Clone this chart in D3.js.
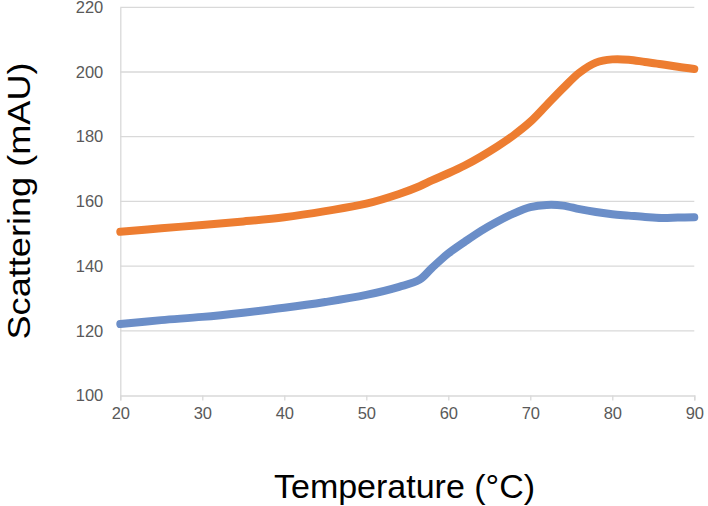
<!DOCTYPE html>
<html><head><meta charset="utf-8">
<script src="https://cdn.jsdelivr.net/npm/d3@7"></script>
<style>body{margin:0;background:#fff}svg{display:block}</style>
</head><body>
<svg id="c" width="708" height="506"></svg>
<script>
const temps = [20,25,30,35,40,45,50,54,56.5,58,60,62,64,66,68,70,72,74,76,78,80,82,84,86,88,90];
const blueSeries = [122.1,123.3,124.3,125.6,127.1,128.9,131.1,133.6,135.8,139.4,143.9,147.5,150.9,153.8,156.3,158.2,158.9,158.7,157.6,156.7,156.0,155.6,155.2,154.9,155.0,155.1];
const orangeSeries = [150.6,151.7,152.7,153.8,155.1,157.0,159.3,162.3,164.7,166.5,168.7,171.1,173.9,177.0,180.5,184.6,189.8,195.0,199.8,202.9,203.9,203.8,203.1,202.4,201.6,200.9];
const xTicks = [20,30,40,50,60,70,80,90];
const yTicks = [100,120,140,160,180,200,220];
const xTitle = "Temperature (°C)";
const yTitle = "Scattering (mAU)";

const svg = d3.select("#c");
const x = d3.scaleLinear().domain([20,90]).range([120.3,694.3]);
const y = d3.scaleLinear().domain([100,220]).range([395.5,7.3]);
const tickFont = "'Liberation Sans',Arial,sans-serif";

svg.append("g").selectAll("line").data(yTicks.filter(d=>d>100)).join("line")
  .attr("x1",x(20)).attr("x2",x(90)).attr("y1",d=>y(d)).attr("y2",d=>y(d))
  .attr("stroke","#d9d9d9").attr("stroke-width",1.3);

const ya = svg.append("g").attr("transform",`translate(${x(20)},0)`)
  .call(d3.axisLeft(y).tickValues(yTicks).tickSize(0).tickPadding(17));
ya.select(".domain").attr("stroke","#d9d9d9").attr("stroke-width",1.3);
ya.selectAll("text").attr("fill","#595959").style("font-family",tickFont).style("font-size","16.5px");

const xa = svg.append("g").attr("transform",`translate(0,${y(100)})`)
  .call(d3.axisBottom(x).tickValues(xTicks).tickSize(5).tickPadding(7));
xa.select(".domain").attr("stroke","#d9d9d9").attr("stroke-width",1.3);
xa.selectAll(".tick line").attr("stroke","#d9d9d9").attr("stroke-width",1.3);
xa.selectAll("text").attr("fill","#595959").style("font-family",tickFont).style("font-size","16.5px");

const line = d3.line().x((d,i)=>x(temps[i])).y(d=>y(d)).curve(d3.curveCatmullRom.alpha(0.5));
svg.append("path").datum(blueSeries).attr("d",line).attr("fill","none")
  .attr("stroke","#6b8ec8").attr("stroke-width",8).attr("stroke-linecap","round").attr("stroke-linejoin","round");
svg.append("path").datum(orangeSeries).attr("d",line).attr("fill","none")
  .attr("stroke","#ed7d31").attr("stroke-width",8).attr("stroke-linecap","round").attr("stroke-linejoin","round");

svg.append("text").attr("x",404.5).attr("y",498).attr("text-anchor","middle")
  .attr("textLength",261).attr("lengthAdjust","spacingAndGlyphs")
  .style("font-family","'Liberation Sans',Arial,sans-serif").style("font-size","34px").attr("fill","#000")
  .text(xTitle);
svg.append("text").attr("transform","translate(30,201) rotate(-90)").attr("text-anchor","middle")
  .attr("textLength",277).attr("lengthAdjust","spacingAndGlyphs")
  .style("font-family","'Liberation Sans',Arial,sans-serif").style("font-size","32px").attr("fill","#000")
  .text(yTitle);
</script>
</body></html>
